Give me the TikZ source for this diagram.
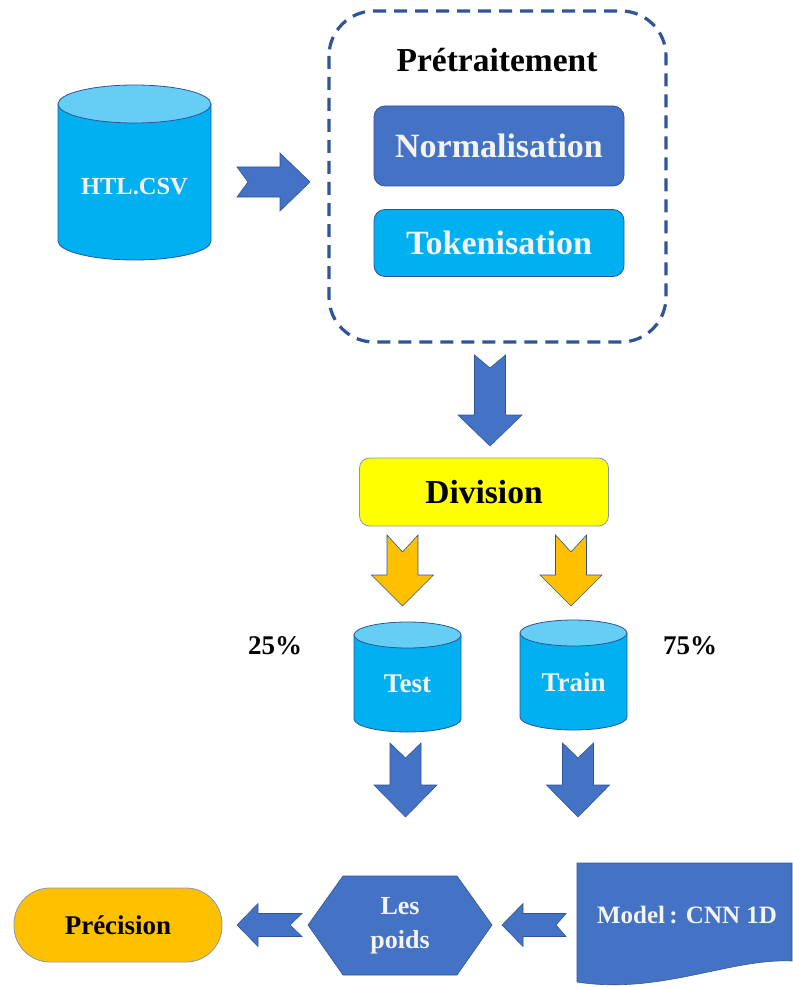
\documentclass[tikz,border=0pt]{standalone}
\usepackage{fontspec}
\setmainfont{Liberation Serif}
\definecolor{darkblue}{HTML}{2F5597}
\definecolor{midblue}{HTML}{4472C4}
\definecolor{skyblue}{HTML}{00B0F0}
\definecolor{paleblue}{HTML}{66CDF5}
\definecolor{amber}{HTML}{FFC000}
\definecolor{lemon}{HTML}{FFFF00}
\definecolor{offwhite}{HTML}{F4F4F4}
\definecolor{greyblue}{HTML}{8497C4}

\tikzset{
  % block arrow pointing down; args: colour, length, shaft half-width, head half-width, head length, notch depth
  pics/adown/.style n args={6}{code={
    \path[fill=#1, draw=darkblue, line width=0.6pt, line join=miter]
      (-#3,0) -- (0,#6) -- (#3,0) -- (#3,{#2-#5}) -- (#4,{#2-#5}) -- (0,#2)
      -- (-#4,{#2-#5}) -- (-#3,{#2-#5}) -- cycle;
  }},
  pics/aright/.style n args={6}{code={
    \path[fill=#1, draw=darkblue, line width=0.6pt, line join=miter]
      (0,-#3) -- (#6,0) -- (0,#3) -- ({#2-#5},#3) -- ({#2-#5},#4) -- (#2,0)
      -- ({#2-#5},-#4) -- ({#2-#5},-#3) -- cycle;
  }},
  pics/aleft/.style n args={6}{code={
    \path[fill=#1, draw=darkblue, line width=0.6pt, line join=miter]
      (0,-#3) -- (-#6,0) -- (0,#3) -- ({-#2+#5},#3) -- ({-#2+#5},#4) -- (-#2,0)
      -- ({-#2+#5},-#4) -- ({-#2+#5},-#3) -- cycle;
  }},
  % database cylinder drawn from the centre of its top ellipse; args: x radius, y radius, body height
  pics/dbcyl/.style n args={3}{code={
    \path[fill=skyblue, draw=darkblue, line width=0.8pt]
      (-#1,0) -- (-#1,#3) arc[start angle=180, end angle=0, x radius=#1, y radius=#2]
      -- (#1,0) -- cycle;
    \path[fill=paleblue, draw=darkblue, line width=0.8pt]
      (0,0) ellipse[x radius=#1, y radius=#2];
  }},
  whitetxt/.style={text=offwhite, font=\bfseries\fontsize{27}{31}\selectfont, align=center},
  blacktxt/.style={text=black, font=\bfseries\fontsize{27}{31}\selectfont, align=center},
  stepbox/.style={rounded corners=11pt, draw=darkblue, line width=0.8pt, inner sep=0pt},
}

\begin{document}
\begin{tikzpicture}[x=1pt, y=-1pt]
  \useasboundingbox (0,0) rectangle (792,987);

  % source data
  \pic at (134.5,104) {dbcyl={76.5}{19}{137}};
  \node[whitetxt, font=\bfseries\fontsize{24.5}{28}\selectfont] (csv) at (134.5,187) {HTL.CSV};
  \pic at (237,182) {aright={midblue}{73}{15}{29}{30}{11}};

  % preprocessing group
  \draw[darkblue, line width=3.2pt, dash pattern=on 13pt off 8pt, rounded corners=45pt]
    (329,11) rectangle (666,342);
  \node[blacktxt, font=\bfseries\fontsize{33.5}{38}\selectfont] (pre) at (497,60) {Prétraitement};
  \node[stepbox, fill=midblue, minimum width=250pt, minimum height=80pt,
        whitetxt, font=\bfseries\fontsize{34}{38}\selectfont] (norm) at (499,146) {Normalisation};
  \node[stepbox, fill=skyblue, minimum width=250pt, minimum height=67pt,
        whitetxt, font=\bfseries\fontsize{34}{38}\selectfont] (tok) at (499,243) {Tokenisation};
  \pic at (490,355) {adown={midblue}{91}{15.5}{32}{31}{13}};

  % split
  \node[rounded corners=10pt, draw=greyblue, line width=0.8pt, fill=lemon,
        minimum width=249pt, minimum height=68pt, inner sep=0pt,
        blacktxt, font=\bfseries\fontsize{33.5}{38}\selectfont] (div) at (484,492) {Division};
  \pic at (402.5,535) {adown={amber}{71}{15.5}{31}{31}{17}};
  \pic at (571,535) {adown={amber}{71}{15.5}{31}{31}{17}};

  % test / train sets
  \pic at (407.5,635) {dbcyl={53.5}{13}{84}};
  \pic at (573.5,633) {dbcyl={53.5}{13}{84}};
  \node[whitetxt] (test) at (407.5,684) {Test};
  \node[whitetxt] (train) at (573.5,682) {Train};
  \node[blacktxt] (p25) at (275,646) {25\%};
  \node[blacktxt] (p75) at (690,646) {75\%};
  \pic at (405.5,743) {adown={midblue}{74}{15.5}{31.5}{32}{15}};
  \pic at (578,743) {adown={midblue}{74}{15.5}{31.5}{32}{15}};

  % model, weights and accuracy
  \path[fill=midblue, draw=darkblue, line width=0.6pt]
    (577,863) -- (792,863) -- (792,961)
    .. controls (730,958) and (660,995) .. (577,982) -- cycle;
  \node[whitetxt, font=\bfseries\fontsize{25}{29}\selectfont] (model) at (687,915) {Model\,: CNN 1D};
  \pic at (566,925) {aleft={midblue}{64}{11.5}{21.5}{21}{10}};
  \path[fill=midblue, draw=darkblue, line width=0.6pt]
    (308,925) -- (343,876) -- (457,876) -- (492,925) -- (457,975) -- (343,975) -- cycle;
  \node[whitetxt, font=\bfseries\fontsize{26}{34}\selectfont] (poids) at (400,926) {Les\\poids};
  \pic at (302,925) {aleft={midblue}{65}{11.5}{21.5}{21}{12}};
  \node[rounded corners=36pt, draw=greyblue, line width=0.8pt, fill=amber,
        minimum width=208pt, minimum height=74pt, inner sep=0pt,
        blacktxt] (prec) at (118,925) {Précision};
\end{tikzpicture}
\end{document}
